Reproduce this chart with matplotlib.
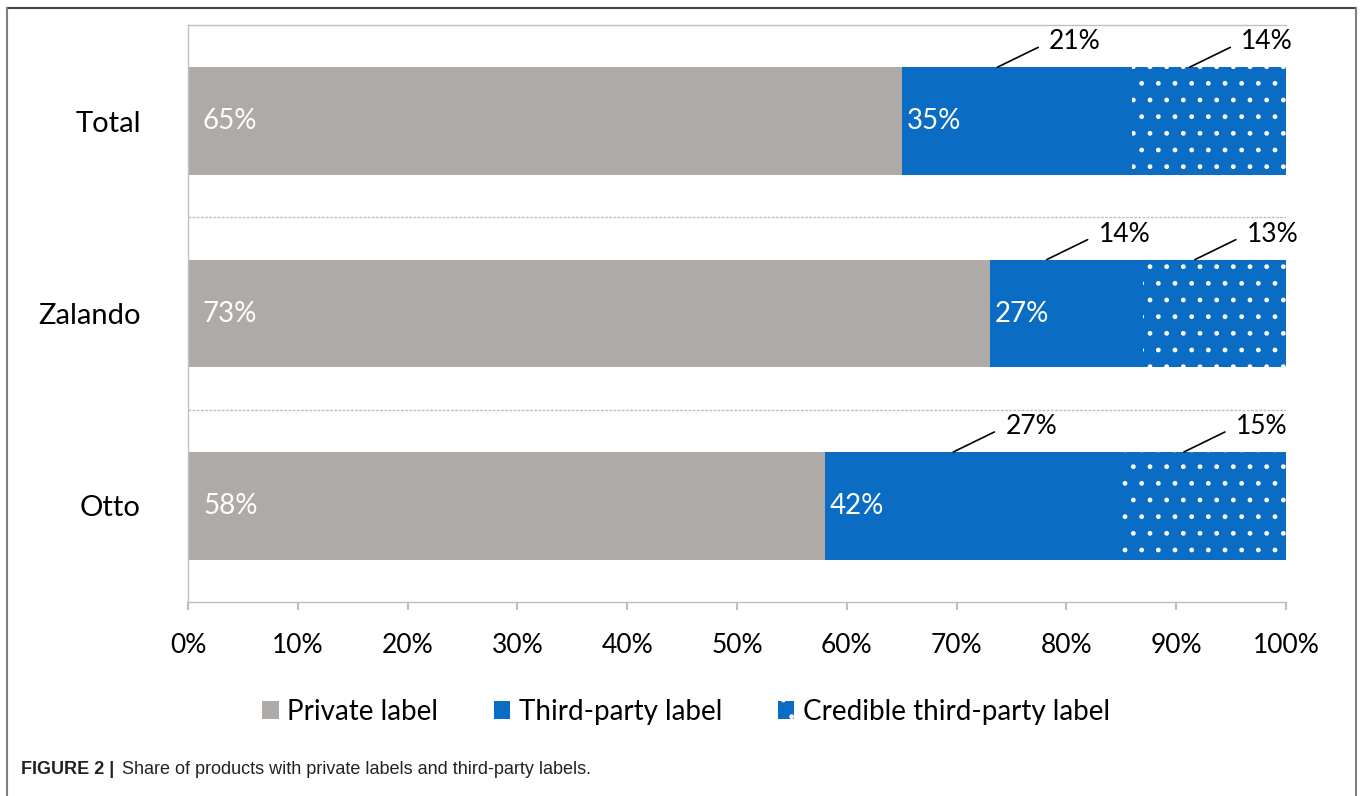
import numpy as np
import matplotlib.pyplot as plt
from matplotlib.patches import Patch
from matplotlib.lines import Line2D

# data (bottom to top)
categories = ['Otto', 'Zalando', 'Total']
private = [58, 73, 65]
third_party = [27, 14, 21]      # third-party, not credible
credible = [15, 13, 14]         # credible third-party
third_total = [42, 27, 35]      # all third-party labels

GRAY = '#AEAAA8'
BLUE = '#0A6CC2'
LINE = '#BFBFBF'
FONT = ['Lato', 'DejaVu Sans']

plt.rcParams['font.family'] = FONT

fig = plt.figure(figsize=(13.6, 7.96), dpi=100)
ax = fig.add_axes([188/1360, 1 - 602/796, 1098/1360, 577/796])

y = np.arange(len(categories))
h = 0.56
priv = np.array(private)
tp = np.array(third_party)
cr = np.array(credible)

ax.barh(y, priv, height=h, color=GRAY, linewidth=0)
ax.barh(y, tp, left=priv, height=h, color=BLUE, linewidth=0)
ax.barh(y, cr, left=priv + tp, height=h, color=BLUE, edgecolor='white',
        linewidth=0, hatch='.')

# labels inside bars
for i in range(len(categories)):
    ax.annotate(f'{private[i]}%', xy=(0, y[i]), xytext=(15, 0),
                textcoords='offset pixels', ha='left', va='center',
                color='white', fontsize=20)
    ax.annotate(f'{third_total[i]}%', xy=(private[i], y[i]), xytext=(5, 0),
                textcoords='offset pixels', ha='left', va='center',
                color='white', fontsize=20)

# leader-line labels above the blue segments
for i in range(len(categories)):
    segs = [(private[i], third_party[i]),
            (private[i] + third_party[i], credible[i])]
    for start, val in segs:
        x0 = start + val / 2 - 1.8
        ax.annotate('', xy=(x0, y[i] + h / 2), xytext=(41, 20),
                    textcoords='offset pixels',
                    arrowprops=dict(arrowstyle='-', color='black', lw=1.2,
                                    shrinkA=0, shrinkB=0))
        ax.annotate(f'{val}%', xy=(x0, y[i] + h / 2), xytext=(52, 18),
                    textcoords='offset pixels', ha='left', va='baseline',
                    fontsize=19, color='black')

# separators
for s in [0.5, 1.5]:
    ax.axhline(s, color=LINE, lw=1, ls=(0, (2, 1)), zorder=0)

ax.set_xlim(0, 100)
ax.set_ylim(-0.5, 2.5)
ax.set_xticks(np.arange(0, 101, 10))
ax.set_xticklabels([f'{v}%' for v in range(0, 101, 10)], fontsize=19)
ax.set_yticks(y)
ax.set_yticklabels(categories, fontsize=21)
ax.tick_params(axis='y', length=0, pad=34)
ax.tick_params(axis='x', length=6, color=LINE, width=1.5, pad=16)

for side in ['top', 'left', 'bottom']:
    ax.spines[side].set_color(LINE)
    ax.spines[side].set_linestyle((0, (2, 1)))
    ax.spines[side].set_linewidth(1)
ax.spines['right'].set_visible(False)

# legend
handles = [Patch(facecolor=GRAY, linewidth=0),
           Patch(facecolor=BLUE, linewidth=0),
           Patch(facecolor=BLUE, edgecolor='white', linewidth=0, hatch='.')]
fig.legend(handles, ['Private label', 'Third-party label',
                     'Credible third-party label'],
           loc='center', bbox_to_anchor=(686/1360, 1 - 712/796), ncol=3,
           frameon=False, fontsize=20, handlelength=0.6, handleheight=0.6,
           handletextpad=0.3, columnspacing=2.0)

# outer frame
fig.add_artist(Line2D([7/1360, 1356/1360], [1 - 8/796, 1 - 8/796],
                      transform=fig.transFigure, color='#444444', lw=1.5))
fig.add_artist(Line2D([7/1360, 7/1360], [0, 1 - 8/796],
                      transform=fig.transFigure, color='#808080', lw=1.5))
fig.add_artist(Line2D([1356/1360, 1356/1360], [0, 1 - 8/796],
                      transform=fig.transFigure, color='#808080', lw=1.5))

# caption
cap = ['Liberation Sans', 'DejaVu Sans']
fig.text(21/1360, 1 - 770/796, 'FIGURE 2 |', family=cap, fontweight='bold',
         fontsize=13, va='center', color='#222222')
fig.text(122/1360, 1 - 770/796,
         'Share of products with private labels and third-party labels.',
         family=cap, fontsize=13, va='center', color='#222222')

fig.savefig('out.png', dpi=100)
